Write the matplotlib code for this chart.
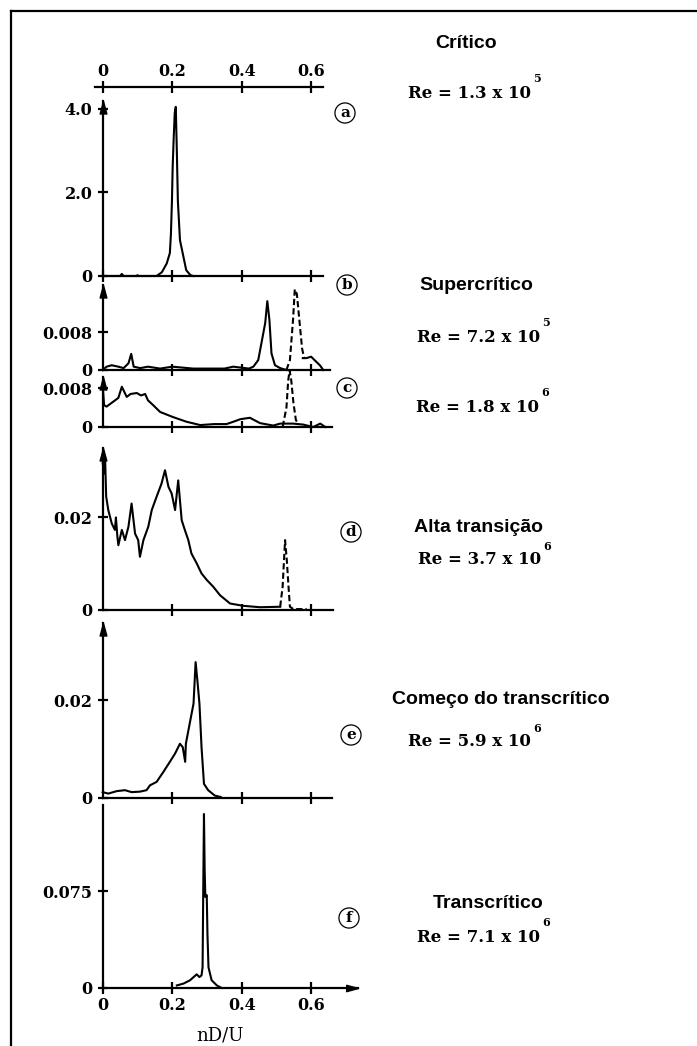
import numpy as np
import matplotlib
matplotlib.use("Agg")
import matplotlib.pyplot as plt
from matplotlib.lines import Line2D
from matplotlib.path import Path

# ---------------- data ----------------
nan = np.nan
# (a) Critico
a_x = [0, 0.05, 0.055, 0.06, 0.098, 0.10, 0.102, 0.155, 0.17, 0.184, 0.193, 0.196, 0.199,
       0.201, 0.204, 0.207, 0.210, 0.213, 0.216, 0.222, 0.232, 0.240, 0.252, 0.26]
a_y = [0, 0, 0.05, 0, 0, 0.02, 0, 0, 0.09, 0.3, 0.55, 1.0, 1.8,
       2.6, 3.3, 3.9, 4.05, 3.0, 1.8, 0.86, 0.46, 0.14, 0.02, 0]
# (b) Supercritico Re=7.2e5
b_x = [0, 0.011, 0.026, 0.045, 0.06, 0.074, 0.082, 0.089, 0.108, 0.13, 0.165, 0.2, 0.26,
       0.35, 0.375, 0.42, 0.433, 0.447, 0.457, 0.467, 0.473, 0.479, 0.485, 0.495, 0.51,
       0.528, nan, 0.575, 0.585, 0.599, 0.61, 0.624, 0.634]
b_y = [0, 0.0007, 0.001, 0.0007, 0.0004, 0.0014, 0.0034, 0.0007, 0.0004, 0.0007, 0.0003,
       0.0007, 0.0003, 0.0003, 0.0007, 0.0003, 0.0007, 0.0021, 0.006, 0.0099, 0.0145,
       0.0106, 0.0035, 0.001, 0.0004, 0, nan, 0.0025, 0.0025, 0.0028, 0.002, 0.001, 0]
bd_x = [0.528, 0.538, 0.547, 0.552, 0.558, 0.565, 0.573, 0.579]
bd_y = [0, 0.0021, 0.0106, 0.017, 0.016, 0.0106, 0.0045, 0.0025]
# (c) Re=1.8e6
c_x = [0, 0.004, 0.011, 0.03, 0.045, 0.055, 0.069, 0.08, 0.098, 0.11, 0.122, 0.13, 0.145,
       0.165, 0.2, 0.24, 0.28, 0.32, 0.356, 0.38, 0.395, 0.423, 0.452, 0.49, 0.51, 0.547,
       0.576, 0.605, 0.625, 0.64]
c_y = [0.0085, 0.0045, 0.0042, 0.0052, 0.006, 0.0083, 0.0062, 0.0068, 0.007, 0.0065,
       0.0068, 0.0055, 0.0045, 0.0031, 0.0021, 0.0011, 0.0004, 0.0006, 0.0006, 0.0012,
       0.0016, 0.0019, 0.0008, 0.0003, 0.0007, 0.0007, 0.0005, 0.0, 0.0007, 0]
cd_x = [0.517, 0.528, 0.533, 0.537, 0.542, 0.548, 0.555, 0.562]
cd_y = [0, 0.004, 0.0095, 0.0117, 0.0095, 0.005, 0.0015, 0.0005]
# (d) Alta transicao
d_x = [0, 0.004, 0.007, 0.010, 0.016, 0.026, 0.035, 0.038, 0.042, 0.045, 0.055, 0.064,
       0.074, 0.083, 0.093, 0.102, 0.107, 0.117, 0.131, 0.141, 0.155, 0.169, 0.179, 0.189,
       0.198, 0.208, 0.217, 0.227, 0.236, 0.246, 0.255, 0.27, 0.284, 0.299, 0.318, 0.337,
       0.366, 0.404, 0.452, 0.51]
d_y = [0.0317, 0.0295, 0.0324, 0.0245, 0.0216, 0.0187, 0.0173, 0.02, 0.016, 0.014, 0.0173,
       0.0151, 0.018, 0.023, 0.0165, 0.0151, 0.0115, 0.0151, 0.018, 0.0216, 0.0245, 0.0273,
       0.0302, 0.0266, 0.0252, 0.0216, 0.028, 0.0194, 0.0173, 0.0151, 0.0122, 0.0101,
       0.0079, 0.0065, 0.005, 0.0032, 0.0014, 0.0009, 0.0006, 0.0007]
dd_x = [0.51, 0.517, 0.524, 0.529, 0.534, 0.538, 0.548, 0.586]
dd_y = [0.0007, 0.005, 0.0151, 0.0108, 0.005, 0.0007, 0.0002, 0.0002]
# (e) Comeco do transcritico
e_x = [0, 0.016, 0.04, 0.064, 0.083, 0.107, 0.126, 0.136, 0.155, 0.174, 0.193, 0.208, 0.222,
       0.23, 0.237, 0.239, 0.251, 0.261, 0.267, 0.272, 0.278, 0.284, 0.291, 0.303, 0.322,
       0.339]
e_y = [0.0012, 0.0009, 0.0014, 0.0016, 0.0012, 0.0013, 0.0016, 0.0026, 0.0033, 0.0053,
       0.0074, 0.0091, 0.0111, 0.0104, 0.0074, 0.0111, 0.0156, 0.0193, 0.0278, 0.0241,
       0.0193, 0.0104, 0.0029, 0.0016, 0.0005, 0.0002]
# (f) Transcritico
f_x = [0.213, 0.232, 0.251, 0.27, 0.278, 0.284, 0.287, 0.289, 0.291, 0.293, 0.295, 0.299,
       0.301, 0.304, 0.313, 0.328, 0.342]
f_y = [0.002, 0.0034, 0.006, 0.0106, 0.0085, 0.0098, 0.016, 0.078, 0.135, 0.091, 0.0706,
       0.072, 0.042, 0.016, 0.006, 0.002, 0]

x_ticks = [0, 0.2, 0.4, 0.6]
x_ticklabels = ["0", "0.2", "0.4", "0.6"]
y_ticks = [[0, 2.0, 4.0], [0, 0.008], [0, 0.008], [0, 0.02], [0, 0.02], [0, 0.075]]
y_ticklabels = [["0", "2.0", "4.0"], ["0", "0.008"], ["0", "0.008"], ["0", "0.02"],
                ["0", "0.02"], ["0", "0.075"]]
letters = ["a", "b", "c", "d", "e", "f"]
regime_names = ["Crítico", "Supercrítico", "Alta transição", "Começo do transcrítico",
                "Transcrítico"]
re_mant = ["1.3", "7.2", "1.8", "3.7", "5.9", "7.1"]
re_exp = ["5", "5", "6", "6", "6", "6"]
x_label = "nD/U"

# ---------------- layout ----------------
W, H = 697, 1046
SERIF = ["DejaVu Serif"]
SANS = ["Liberation Sans", "DejaVu Sans"]
plt.rcParams["font.family"] = SERIF
plt.rcParams["font.weight"] = "bold"
fig = plt.figure(figsize=(W / 100, H / 100), dpi=100)

X0 = 102.7      # pixel of x = 0
PXU = 348.0     # pixels per unit of nD/U
XMAX = 0.75
LW_AX = 1.6
LW_D = 1.5
TFS = 11.5

up_arrow = Path([(-0.27, -1.0), (0, 0), (0.27, -1.0), (-0.27, -1.0)],
                [Path.MOVETO, Path.LINETO, Path.LINETO, Path.CLOSEPOLY])
right_arrow = Path([(-1.0, -0.27), (0, 0), (-1.0, 0.27), (-1.0, -0.27)],
                   [Path.MOVETO, Path.LINETO, Path.LINETO, Path.CLOSEPOLY])

# panel geometry: baseline px, axis top px, value at axis top, end of x axis, arrow on top
panels = [
    dict(base=276, tip=101, ymax=4.19, xend=0.634, arrow=True),
    dict(base=370, tip=285, ymax=0.0179, xend=0.654, arrow=True),
    dict(base=427, tip=377, ymax=0.0103, xend=0.658, arrow=True),
    dict(base=610, tip=448, ymax=0.035, xend=0.663, arrow=True),
    dict(base=798, tip=623, ymax=0.0358, xend=0.658, arrow=True),
    dict(base=988, tip=805, ymax=0.142, xend=0.734, arrow=False),
]
series = [
    [(a_x, a_y, "-")],
    [(b_x, b_y, "-"), (bd_x, bd_y, "--")],
    [(c_x, c_y, "-"), (cd_x, cd_y, "--")],
    [(d_x, d_y, "-"), (dd_x, dd_y, "--")],
    [(e_x, e_y, "-")],
    [(f_x, f_y, "-")],
]

for i, p in enumerate(panels):
    ax = fig.add_axes([X0 / W, 1 - p["base"] / H, XMAX * PXU / W, (p["base"] - p["tip"]) / H])
    ax.patch.set_alpha(0)
    ax.set_xlim(0, XMAX)
    ax.set_ylim(0, p["ymax"])
    for s in ["top", "right"]:
        ax.spines[s].set_visible(False)
    ax.spines["left"].set_bounds(0, p["ymax"])
    ax.spines["bottom"].set_bounds(0, p["xend"])
    for s in ["left", "bottom"]:
        ax.spines[s].set_linewidth(LW_AX)
    for xs, ys, ls in series[i]:
        if ls == "--":
            ax.plot(xs, ys, color="black", lw=LW_D, ls="--", dashes=(3, 1.5), clip_on=False)
        else:
            ax.plot(xs, ys, color="black", lw=LW_D, ls="-", clip_on=False)
    ax.set_yticks(y_ticks[i])
    ax.set_yticklabels(y_ticklabels[i], fontsize=TFS)
    ax.tick_params(axis="y", direction="inout", length=7, width=LW_AX, pad=4)
    if i == 5:
        ax.set_xticks(x_ticks)
        ax.set_xticklabels(x_ticklabels, fontsize=TFS)
        ax.tick_params(axis="x", direction="inout", length=9, width=LW_AX, pad=2)
        ax.plot(p["xend"], 0, marker=right_arrow, ms=17, color="black", clip_on=False)
    elif i == 0:
        ax.set_xticks(x_ticks)
        ax.xaxis.set_ticks_position("both")
        ax.tick_params(axis="x", direction="inout", length=9, width=LW_AX,
                       labelbottom=False, labeltop=True, pad=0.5, labelsize=TFS)
        ax.set_xticklabels(x_ticklabels)
        ax.spines["top"].set_visible(True)
        ax.spines["top"].set_linewidth(LW_AX)
        ax.spines["top"].set_position(("outward", 10))
        ax.spines["top"].set_bounds(-0.022, 0.634)
    else:
        ax.set_xticks(x_ticks[1:])
        ax.tick_params(axis="x", direction="inout", length=9, width=LW_AX, labelbottom=False)
    if p["arrow"]:
        ax.plot(0, p["ymax"], marker=up_arrow, ms=18, color="black", clip_on=False)

# x-axis label
fig.text(220 / W, 1 - 1035 / H, x_label, ha="center", va="center", fontsize=13,
         fontweight="normal", family=SERIF)

# circled panel letters
letter_pos = [(345, 113), (347, 285), (347, 388), (351, 532), (351, 735), (349, 918)]
for (px, py), lt in zip(letter_pos, letters):
    fig.text(px / W, 1 - py / H, lt, ha="center", va="center", fontsize=11, fontweight="bold",
             family=SERIF,
             bbox=dict(boxstyle="circle,pad=0.2", fc="white", ec="black", lw=0.9))

# regime names
name_pos = [(466, 43), (476, 285), (478, 528), (501, 700), (488, 903)]
for (px, py), nm in zip(name_pos, regime_names):
    fig.text(px / W, 1 - py / H, nm, ha="center", va="center", fontsize=14,
             fontweight="bold", family=SANS)

# Reynolds numbers
re_pos = [(408, 93), (417, 337), (416, 407), (418, 560), (408, 742), (417, 937)]
re_texts = []
for (px, py), m in zip(re_pos, re_mant):
    t = fig.text(px / W, 1 - py / H, "Re = %s x 10" % m, ha="left", va="center",
                 fontsize=12, fontweight="bold", family=SERIF)
    re_texts.append(t)

fig.canvas.draw()
renderer = fig.canvas.get_renderer()
for t, e in zip(re_texts, re_exp):
    bb = t.get_window_extent(renderer)
    x = bb.x1 + 2
    y = (bb.y0 + bb.y1) / 2 + 14
    fig.text(x / W, y / H, e, fontsize=8, fontweight="bold", family=SERIF,
             ha="left", va="center")

# outer frame (top and left edges)
fig.add_artist(Line2D([11 / W, 1.0], [1 - 11 / H, 1 - 11 / H], color="black", lw=1.6))
fig.add_artist(Line2D([11 / W, 11 / W], [1 - 11 / H, 0.0], color="black", lw=1.6))

fig.savefig("out.png", dpi=100)
